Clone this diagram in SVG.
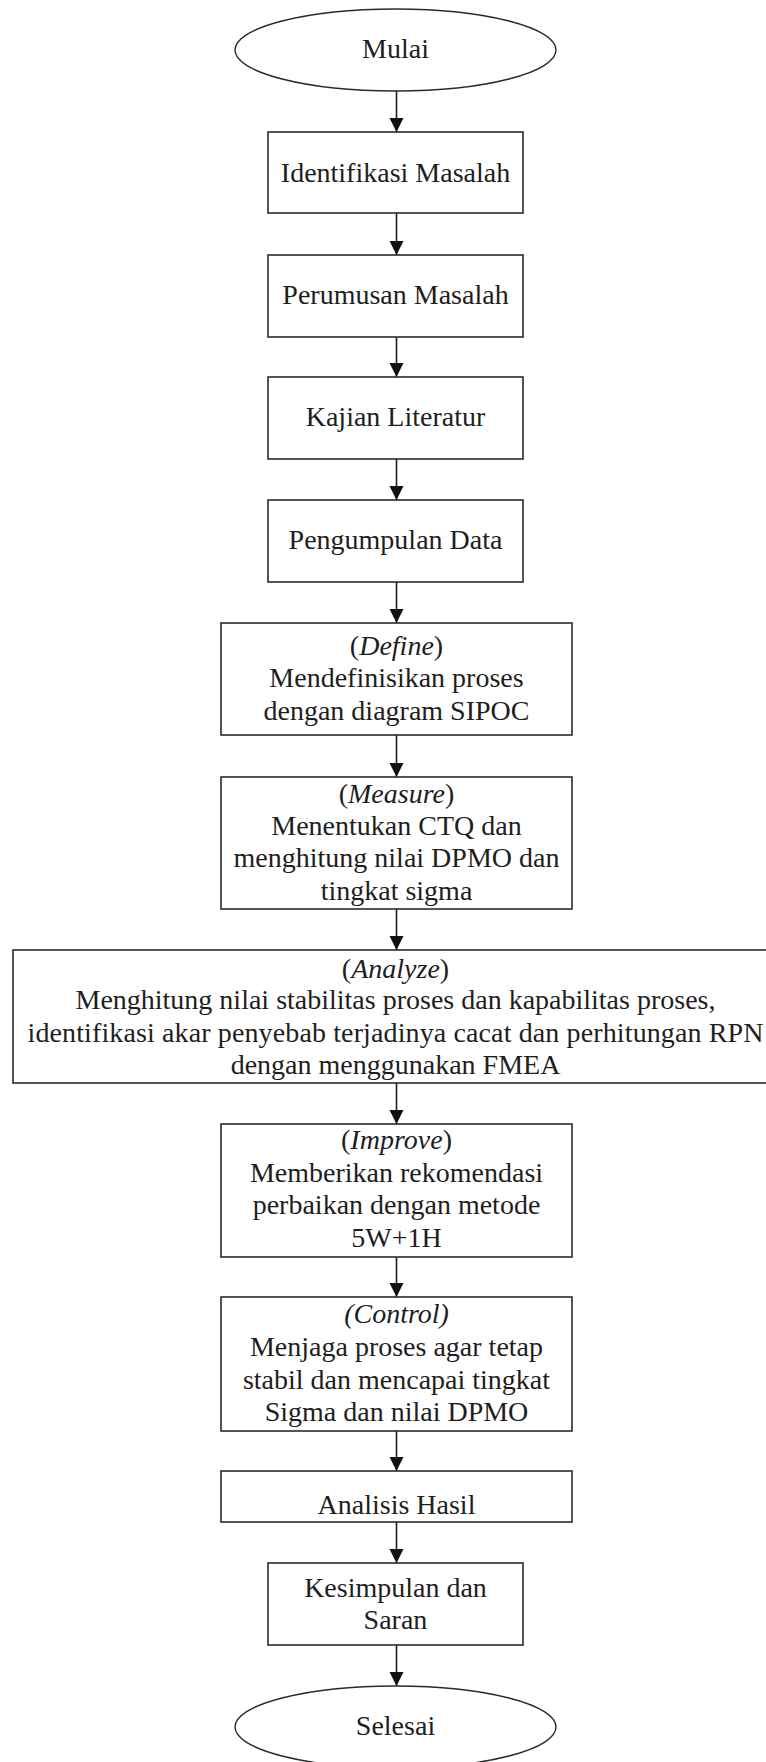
<svg xmlns="http://www.w3.org/2000/svg" width="766" height="1762" viewBox="0 0 766 1762">
  <style>
    .box { fill: #ffffff; stroke: #2a2a2a; stroke-width: 1.6; }
    .term { fill: #ffffff; stroke: #2a2a2a; stroke-width: 1.4; }
    .lbl { font-family: "Liberation Serif", "Times New Roman", serif; font-size: 28px; fill: #1e1e1e; text-anchor: middle; }
    .it { font-style: italic; }
    .edge { stroke: #1e1e1e; stroke-width: 1.6; fill: none; marker-end: url(#head); }
  </style>
  <defs>
    <marker id="head" markerUnits="userSpaceOnUse" markerWidth="16" markerHeight="16" viewBox="0 0 16 16" refX="14" refY="8" orient="auto">
      <path d="M0,1 L14,8 L0,15 Z" fill="#111"/>
    </marker>
  </defs>
  <rect width="766" height="1762" fill="#ffffff"/>

  <!-- connectors -->
  <g id="connectors">
    <line class="edge" x1="396.5" y1="91" x2="396.5" y2="132"/>
    <line class="edge" x1="396.5" y1="213" x2="396.5" y2="255"/>
    <line class="edge" x1="396.5" y1="337" x2="396.5" y2="377"/>
    <line class="edge" x1="396.5" y1="459" x2="396.5" y2="500"/>
    <line class="edge" x1="396.5" y1="582" x2="396.5" y2="623"/>
    <line class="edge" x1="396.5" y1="735" x2="396.5" y2="777"/>
    <line class="edge" x1="396.5" y1="909" x2="396.5" y2="950"/>
    <line class="edge" x1="396.5" y1="1083" x2="396.5" y2="1124"/>
    <line class="edge" x1="396.5" y1="1257" x2="396.5" y2="1297"/>
    <line class="edge" x1="396.5" y1="1431" x2="396.5" y2="1471"/>
    <line class="edge" x1="396.5" y1="1522" x2="396.5" y2="1563"/>
    <line class="edge" x1="396.5" y1="1645" x2="396.5" y2="1686"/>
  </g>

  <g id="mulai">
    <ellipse class="term" cx="395.5" cy="50" rx="160.5" ry="41"/>
    <text class="lbl" x="395.5" y="58">Mulai</text>
  </g>

  <g id="identifikasi">
    <rect class="box" x="268" y="132" width="255" height="81"/>
    <text class="lbl" x="395.5" y="182">Identifikasi Masalah</text>
  </g>

  <g id="perumusan">
    <rect class="box" x="268" y="255" width="255" height="82"/>
    <text class="lbl" x="395.5" y="304">Perumusan Masalah</text>
  </g>

  <g id="kajian">
    <rect class="box" x="268" y="377" width="255" height="82"/>
    <text class="lbl" x="395.5" y="426">Kajian Literatur</text>
  </g>

  <g id="pengumpulan">
    <rect class="box" x="268" y="500" width="255" height="82"/>
    <text class="lbl" x="395.5" y="549">Pengumpulan Data</text>
  </g>

  <g id="define">
    <rect class="box" x="221" y="623" width="351" height="112"/>
    <text class="lbl" x="396.5" y="655">(<tspan class="it">Define</tspan>)</text>
    <text class="lbl" x="396.5" y="687">Mendefinisikan proses</text>
    <text class="lbl" x="396.5" y="720">dengan diagram SIPOC</text>
  </g>

  <g id="measure">
    <rect class="box" x="221" y="777" width="351" height="132"/>
    <text class="lbl" x="396.5" y="803">(<tspan class="it">Measure</tspan>)</text>
    <text class="lbl" x="396.5" y="835">Menentukan CTQ dan</text>
    <text class="lbl" x="396.5" y="867">menghitung nilai DPMO dan</text>
    <text class="lbl" x="396.5" y="900">tingkat sigma</text>
  </g>

  <g id="analyze">
    <rect class="box" x="13" y="950" width="765" height="133"/>
    <text class="lbl" x="395.5" y="978">(<tspan class="it">Analyze</tspan>)</text>
    <text class="lbl" x="395.5" y="1009">Menghitung nilai stabilitas proses dan kapabilitas proses,</text>
    <text class="lbl" x="395.5" y="1042" textLength="736" lengthAdjust="spacing">identifikasi akar penyebab terjadinya cacat dan perhitungan RPN</text>
    <text class="lbl" x="395.5" y="1074">dengan menggunakan FMEA</text>
  </g>

  <g id="improve">
    <rect class="box" x="221" y="1124" width="351" height="133"/>
    <text class="lbl" x="396.5" y="1149">(<tspan class="it">Improve</tspan>)</text>
    <text class="lbl" x="396.5" y="1182">Memberikan rekomendasi</text>
    <text class="lbl" x="396.5" y="1214">perbaikan dengan metode</text>
    <text class="lbl" x="396.5" y="1247">5W+1H</text>
  </g>

  <g id="control">
    <rect class="box" x="221" y="1297" width="351" height="134"/>
    <text class="lbl it" x="396.5" y="1323">(Control)</text>
    <text class="lbl" x="396.5" y="1356">Menjaga proses agar tetap</text>
    <text class="lbl" x="396.5" y="1389">stabil dan mencapai tingkat</text>
    <text class="lbl" x="396.5" y="1421">Sigma dan nilai DPMO</text>
  </g>

  <g id="analisis">
    <rect class="box" x="221" y="1471" width="351" height="51"/>
    <text class="lbl" x="396.5" y="1514">Analisis Hasil</text>
  </g>

  <g id="kesimpulan">
    <rect class="box" x="268" y="1563" width="255" height="82"/>
    <text class="lbl" x="395.5" y="1597">Kesimpulan dan</text>
    <text class="lbl" x="395.5" y="1629">Saran</text>
  </g>

  <g id="selesai">
    <ellipse class="term" cx="395.5" cy="1727" rx="160.5" ry="41"/>
    <text class="lbl" x="395.5" y="1735">Selesai</text>
  </g>
</svg>
